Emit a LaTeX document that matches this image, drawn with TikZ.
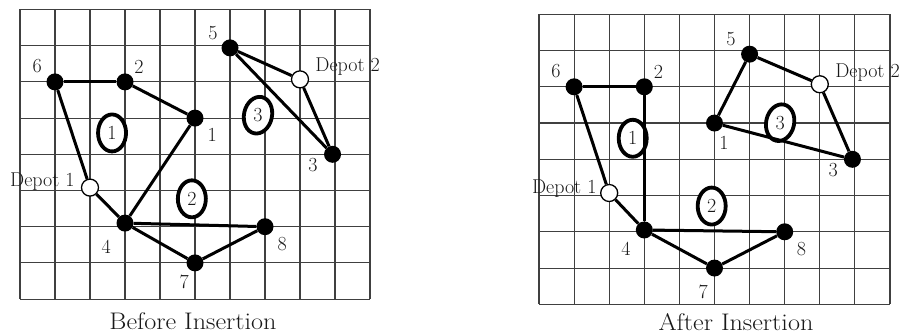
\documentclass[tikz,border=0pt]{standalone}
\usetikzlibrary{shapes.geometric}
\tikzset{
  gridline/.style={draw=black!75, line width=1.1pt},
  route/.style={draw=black, line width=3pt},
  cust/.style={circle, fill=black, minimum size=17pt, inner sep=0pt},
  depot/.style={circle, draw=black, fill=white, line width=1.3pt, minimum size=17pt, inner sep=0pt},
  tag/.style={text=black!90, font=\fontsize{20}{20}\selectfont, inner sep=0pt},
  ring/.style={ellipse, draw=black, fill=white, line width=3.8pt, minimum width=28pt,
    minimum height=37pt, inner sep=0pt},
  caption/.style={text=black!90, font=\fontsize{24}{24}\selectfont, inner sep=0pt,
    transform shape, xscale=1.09},
}
\begin{document}
\begin{tikzpicture}
\useasboundingbox (0pt,0pt) rectangle (903pt,-334pt);

% ---------------- Before insertion ----------------
\begin{scope}[shift={(20pt,-9.5pt)}, x=35pt, y=-36.2pt]
  \foreach \i in {0,...,10} \draw[gridline] (\i,0) -- (\i,8);
  \foreach \j in {0,...,8} \draw[gridline] (0,\j) -- (10,\j);

  % route numbers in rings
  \node[ring] (LE1) at (2.63,3.41) {};
  \node[ring, rotate=-12] (LE3) at (6.8,2.92) {};
  \node[ring] (LE2) at (4.91,5.23) {};
  \node[tag] (LE1t) at (LE1.center) {1};
  \node[tag] (LE3t) at (LE3.center) {3};
  \node[tag] (LE2t) at (LE2.center) {2};

  \node[cust] (L6) at (1,2) {};
  \node[cust] (L2) at (3,2) {};
  \node[cust] (L1) at (5,3) {};
  \node[cust] (L5) at (6,1.06) {};
  \node[depot] (LD2) at (8,1.93) {};
  \node[cust] (L3) at (8.93,4) {};
  \node[depot] (LD1) at (2,4.92) {};
  \node[cust] (L4) at (3,5.9) {};
  \node[cust] (L8) at (7,6) {};
  \node[cust] (L7) at (5,7) {};

  \draw[route] (L6) -- (L2);
  \draw[route] (L2) -- (L1);
  \draw[route] (L1) -- (L4);
  \draw[route] (L6) -- (LD1);
  \draw[route] (LD1) -- (L4);
  \draw[route] (L4) -- (L8);
  \draw[route] (L4) -- (L7);
  \draw[route] (L7) -- (L8);
  \draw[route] (L5) -- (LD2);
  \draw[route] (LD2) -- (L3);
  \draw[route] (L5) -- (L3);

  \node[tag] (L6t) at (0.49,1.56) {6};
  \node[tag] (L2t) at (3.4,1.59) {2};
  \node[tag] (L1t) at (5.49,3.47) {1};
  \node[tag] (L5t) at (5.51,0.65) {5};
  \node[tag] (LD2t) at (9.36,1.58) {Depot 2};
  \node[tag] (L3t) at (8.37,4.3) {3};
  \node[tag] (LD1t) at (0.64,4.76) {Depot 1};
  \node[tag] (L4t) at (2.46,6.56) {4};
  \node[tag] (L8t) at (7.49,6.48) {8};
  \node[tag] (L7t) at (4.69,7.53) {7};
\end{scope}
\node[caption] (capL) at (193pt,-321.5pt) {Before Insertion};

% ---------------- After insertion ----------------
\begin{scope}[shift={(539pt,-14.3pt)}, x=35.1pt, y=-36.25pt]
  \foreach \i in {0,...,10} \draw[gridline] (\i,0) -- (\i,8);
  \foreach \j in {0,...,8} \draw[gridline] (0,\j) -- (10,\j);

  \node[ring] (RE1) at (2.67,3.42) {};
  \node[ring, rotate=-12] (RE3) at (6.87,2.99) {};
  \node[ring] (RE2) at (4.92,5.29) {};
  \node[tag] (RE1t) at (RE1.center) {1};
  \node[tag] (RE3t) at (RE3.center) {3};
  \node[tag] (RE2t) at (RE2.center) {2};

  \node[cust] (R6) at (1,2) {};
  \node[cust] (R2) at (3,2) {};
  \node[cust] (R5) at (6,1.1) {};
  \node[depot] (RD2) at (8,1.93) {};
  \node[cust] (R1) at (5,3) {};
  \node[cust] (R3) at (8.93,4) {};
  \node[depot] (RD1) at (2,4.93) {};
  \node[cust] (R4) at (3,5.95) {};
  \node[cust] (R8) at (7,6) {};
  \node[cust] (R7) at (5,7) {};

  \draw[route] (R6) -- (R2);
  \draw[route] (R2) -- (R4);
  \draw[route] (R6) -- (RD1);
  \draw[route] (RD1) -- (R4);
  \draw[route] (R4) -- (R8);
  \draw[route] (R4) -- (R7);
  \draw[route] (R7) -- (R8);
  \draw[route] (R5) -- (R1);
  \draw[route] (R5) -- (RD2);
  \draw[route] (RD2) -- (R3);
  \draw[route] (R1) -- (R3);

  \node[tag] (R6t) at (0.48,1.56) {6};
  \node[tag] (R2t) at (3.4,1.58) {2};
  \node[tag] (R5t) at (5.47,0.69) {5};
  \node[tag] (RD2t) at (9.36,1.62) {Depot 2};
  \node[tag] (R1t) at (5.27,3.56) {1};
  \node[tag] (R3t) at (8.38,4.31) {3};
  \node[tag] (RD1t) at (0.72,4.8) {Depot 1};
  \node[tag] (R4t) at (2.48,6.46) {4};
  \node[tag] (R8t) at (7.48,6.48) {8};
  \node[tag] (R7t) at (4.68,7.65) {7};
\end{scope}
\node[caption] (capR) at (736pt,-322.5pt) {After Insertion};
\end{tikzpicture}
\end{document}
